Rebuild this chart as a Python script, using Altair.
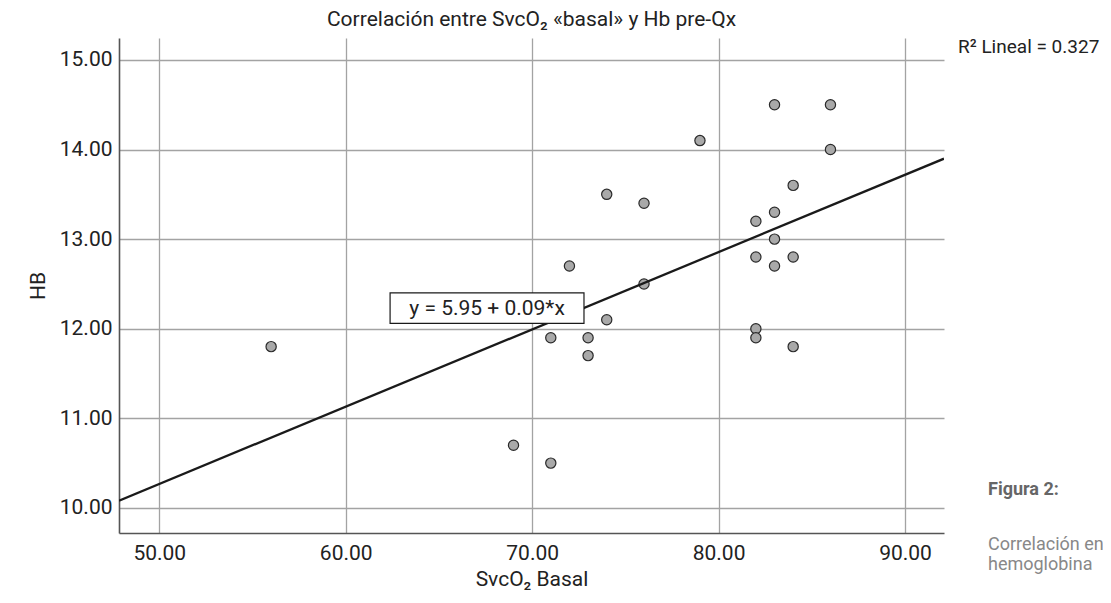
import altair as alt
import pandas as pd

# ---- data ----
svco2 = [56, 69, 71, 71, 72, 73, 73, 74, 74, 76, 76, 79,
         82, 82, 82, 82, 83, 83, 83, 83, 84, 84, 84, 86, 86]
hb = [11.8, 10.7, 10.5, 11.9, 12.7, 11.9, 11.7, 12.1, 13.5, 13.4, 12.5, 14.1,
      13.2, 12.8, 12.0, 11.9, 14.5, 13.3, 13.0, 12.7, 13.6, 12.8, 11.8, 14.5, 14.0]
x_ticks = [50, 60, 70, 80, 90]
y_ticks = [10, 11, 12, 13, 14, 15]
x_domain = [47.84, 92.09]
y_domain = [9.72, 15.245]

title_text = "Correlación entre SvcO₂ «basal» y Hb pre-Qx"
x_title = "SvcO₂ Basal"
y_title = "HB"
eq_text = "y = 5.95 + 0.09*x"
r2_text = "R² Lineal = 0.327"
fig_label = "Figura 2:"
fig_caption = ["Correlación entre", "hemoglobina"]

FONT = "Roboto, Liberation Sans, sans-serif"
W, H = 825, 495

df = pd.DataFrame({"x": svco2, "y": hb})

xs = alt.Scale(domain=x_domain, nice=False, zero=False)
ys = alt.Scale(domain=y_domain, nice=False, zero=False)

xaxis = alt.Axis(values=x_ticks, format=".2f", title=x_title, grid=True,
                 ticks=False, labelPadding=9, titlePadding=5)
yaxis = alt.Axis(values=y_ticks, format=".2f", title=y_title, grid=True,
                 ticks=False, labelPadding=7, titleX=-81, titleY=H / 2,
                 titleAlign="center", titleBaseline="middle")

base = alt.Chart(df)

points = base.mark_point(shape="circle", filled=True, fill="#a9a9a9",
                         stroke="#2a2a2a", strokeWidth=1.2, size=105,
                         opacity=1).encode(
    x=alt.X("x:Q", scale=xs, axis=xaxis),
    y=alt.Y("y:Q", scale=ys, axis=yaxis),
)

line = base.transform_regression("x", "y", extent=x_domain).mark_line(
    color="#1a1a1a", strokeWidth=2.3, clip=True
).encode(x=alt.X("x:Q", scale=xs, axis=xaxis), y=alt.Y("y:Q", scale=ys, axis=yaxis))

box_df = pd.DataFrame({"x1": [62.38], "x2": [72.78], "y1": [12.06], "y2": [12.40],
                       "xm": [67.58], "ym": [12.23], "t": [eq_text]})
box = alt.Chart(box_df).mark_rect(fill="white", stroke="#1a1a1a",
                                  strokeWidth=1.2).encode(
    x=alt.X("x1:Q", scale=xs, axis=xaxis), x2="x2:Q",
    y=alt.Y("y1:Q", scale=ys, axis=yaxis), y2="y2:Q")
eq = alt.Chart(box_df).mark_text(font=FONT, fontSize=21, color="#222",
                                 baseline="middle", dy=1).encode(
    x=alt.X("xm:Q", scale=xs, axis=xaxis), y=alt.Y("ym:Q", scale=ys, axis=yaxis),
    text="t:N")

r2 = alt.Chart(pd.DataFrame({"t": [r2_text]})).mark_text(
    font=FONT, fontSize=19, color="#222", align="left", baseline="middle").encode(
    x=alt.value(W + 14), y=alt.value(9), text="t:N")

fig = alt.Chart(pd.DataFrame({"t": [fig_label]})).mark_text(
    font=FONT, fontSize=18, fontWeight="bold", color="#666",
    align="left", baseline="middle").encode(
    x=alt.value(W + 44), y=alt.value(452), text="t:N")
cap1 = alt.Chart(pd.DataFrame({"t": [fig_caption[0]]})).mark_text(
    font=FONT, fontSize=18, color="#888", align="left", baseline="middle").encode(
    x=alt.value(W + 44), y=alt.value(507), text="t:N")
cap2 = alt.Chart(pd.DataFrame({"t": [fig_caption[1]]})).mark_text(
    font=FONT, fontSize=18, color="#888", align="left", baseline="middle").encode(
    x=alt.value(W + 44), y=alt.value(527), text="t:N")

chart = alt.layer(points, line, box, eq, r2, fig, cap1, cap2).properties(
    width=W, height=H,
    title=alt.TitleParams(title_text, font=FONT, fontSize=21, fontWeight="normal",
                          color="#222", offset=8),
    autosize=alt.AutoSizeParams(type="none"),
    padding={"left": 111, "top": 30, "right": 159, "bottom": 62},
).configure_axis(
    labelFont=FONT, titleFont=FONT, labelFontSize=21, titleFontSize=21,
    labelColor="#222", titleColor="#222", titleFontWeight="normal",
    gridColor="#a3a3a3", gridWidth=1.3, domainColor="#555", domainWidth=1.6,
).configure_view(strokeWidth=0)

chart.save("out.html", embed_options={"renderer": "svg", "actions": False})
